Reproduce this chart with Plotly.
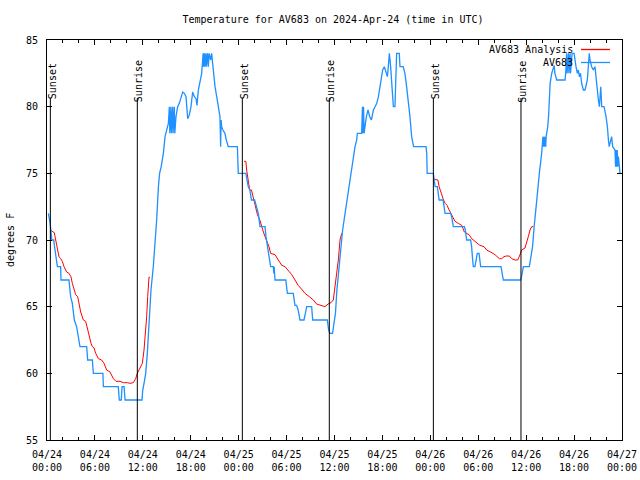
import pandas as pd
import plotly.graph_objects as go

BASE = pd.Timestamp("2024-04-24 00:00")

# Observed temperature (hours since 04/24 00:00 UTC, deg F)
obs_hours = [0.17, 0.4, 0.6, 0.85, 0.9, 1.09, 1.3, 1.71, 1.75, 2.75, 2.85, 2.96, 3.17, 3.3, 3.42, 3.71, 3.84,
             4.01, 4.13, 4.97, 5.09, 5.68, 5.80, 7.0, 7.06, 8.93, 9.05, 9.3, 9.4, 9.65, 9.78, 11.9, 11.98, 12.15,
             12.36, 12.56, 12.77, 13.02, 13.31, 13.5, 13.73, 13.95, 14.1, 14.3, 14.57, 14.78, 14.99, 15.2, 15.32,
             15.38, 15.52, 15.58, 15.73, 15.79, 15.94, 16.0, 16.15, 16.36, 16.57, 16.78, 16.99, 17.2, 17.41, 17.5,
             17.62, 17.83, 18.03, 18.24, 18.45, 18.66, 18.78, 18.95, 19.16, 19.37, 19.49, 19.55, 19.6, 19.7,
             19.76, 19.9, 19.96, 20.1, 20.2, 20.3, 20.5, 20.62, 20.74, 20.83, 21.04, 21.25, 21.45, 21.66, 21.74,
             21.8, 21.87, 22.03, 22.28, 22.45, 22.7, 23.84, 23.95, 24.9, 25.0, 25.2, 25.4, 25.6, 26.0, 26.25,
             26.46, 26.67, 27.3, 27.42, 27.72, 28.0, 28.34, 28.4, 28.45, 28.55, 29.9, 30.1, 30.84, 31.05, 31.25,
             31.45, 31.68, 32.18, 32.35, 32.52, 33.14, 33.27, 35.1, 35.27, 35.43, 35.76, 35.93, 36.12, 36.3,
             36.56, 36.77, 37.02, 37.2, 37.5, 37.74, 37.95, 38.16, 38.36, 38.57, 38.78, 38.86, 39.4, 39.5, 39.56,
             39.64, 39.7, 39.78, 39.99, 40.2, 40.41, 40.62, 40.87, 41.08, 41.29, 41.5, 41.7, 41.91, 42.03, 42.24,
             42.45, 42.62, 42.74, 42.87, 43.03, 43.28, 43.37, 43.57, 43.7, 43.78, 44.11, 44.2, 44.6, 44.82, 45.03,
             45.24, 45.45, 45.66, 45.9, 47.46, 47.55, 47.6, 48.38, 48.46, 48.6, 48.88, 49.0, 49.1, 49.6, 49.84,
             50.55, 50.67, 50.88, 52.26, 52.38, 52.55, 53.05, 53.17, 53.3, 53.38, 53.59, 53.72, 53.88, 54.1, 54.3,
             56.85, 57.0, 57.14, 59.3, 59.42, 59.65, 60.4, 60.6, 60.8, 61.0, 61.2, 61.41, 61.65, 61.8, 61.94,
             62.1, 62.15, 62.2, 62.3, 62.35, 62.45, 62.5, 62.7, 62.8, 62.9, 63.0, 63.2, 63.5, 63.6, 63.82, 64.87,
             64.95, 65.07, 65.12, 65.3, 65.35, 65.5, 65.55, 65.75, 66.0, 66.24, 66.41, 66.53, 66.66, 66.8, 66.95,
             67.16, 67.37, 67.66, 67.78, 67.9, 67.99, 68.2, 68.41, 68.62, 68.74, 68.91, 69.04, 69.17, 69.34,
             69.46, 69.75, 70.0, 70.17, 70.3, 70.4, 70.7, 70.83, 71.12, 71.2, 71.25, 71.33, 71.4, 71.46, 71.55,
             71.75, 71.96]
obs_temps = [72, 71.25, 70, 70, 69.7, 69, 68, 68, 67, 67, 66.5, 65.75, 65.25, 64.25, 64, 63.5, 63,
             62.6, 62, 62, 61, 61, 60, 60, 59, 59, 58, 58, 59, 59, 58, 58, 58.7, 59.25,
             60, 61.5, 63.75, 66.25, 68, 69.5, 71.5, 74, 75, 75.5, 76.5, 77.75, 78.25, 78.75, 80,
             78, 80, 78, 80, 78, 80, 78, 79.25, 80, 80.25, 80.6, 81.1, 81, 80.75, 80,
             79.1, 79.4, 80, 81.1, 80.75, 80.6, 80.1, 81.25, 82, 82.5, 83.5, 84, 83, 84,
             83, 84, 83, 84, 83, 84, 83.5, 84, 83.25, 82.5, 81.5, 80.75, 80, 79.25, 77,
             79, 78.5, 78.25, 78, 77.5, 77, 77, 75, 75, 74.6, 74, 73.75, 73, 73, 72.5,
             72, 71, 71, 70.25, 69, 68, 68, 67.5, 68, 67, 67, 66, 66, 65.1, 65.1,
             64.75, 64, 64, 64.5, 65, 65, 64, 64, 63.25, 63, 63, 63.75, 64.5, 66.25,
             68, 69.25, 70.75, 71.5, 72.75, 73.5, 74.5, 75.5, 76.25, 77, 77.5, 78, 78, 80, 78,
             80, 78, 78.5, 79.25, 79.75, 79.25, 79, 79.75, 80, 80.25, 80.75, 81.5, 82.5, 82.75, 83,
             82.5, 82.25, 83, 84, 83, 81.25, 80, 80, 82, 84, 84, 83, 83, 82.5, 81.5,
             80.5, 79.25, 77.75, 77, 77, 76.5, 75, 75, 74.6, 74, 74, 73.5, 73, 73, 72,
             72, 71.75, 71, 71, 70.75, 70, 70, 69.5, 68.5, 68, 68, 68.5, 69, 69, 68,
             68, 67.5, 67, 67, 67.25, 68, 68, 68.75, 69.5, 71, 72.5, 73.5, 75, 75.75, 76.5,
             77.75, 77, 77.75, 77, 77.75, 77, 77.75, 78.5, 79.25, 80.25, 81.75, 82.5, 83.1, 82.5, 82, 82,
             82.5, 84, 82.5, 84, 82.5, 84, 82.5, 84, 84, 83, 82.5, 82.75, 82.25, 82.5, 81.75,
             81.25, 81.25, 82, 83, 84, 83.5, 83, 82.75, 83, 82.25, 81, 80.5, 80, 81.5,
             80, 80, 79.25, 78.5, 77.5, 77, 77.75, 77, 76.75, 75.5, 76.75, 75.5, 76.75, 75.5, 76.25,
             75, 75]

# Analysis temperature, nighttime segments
ana1_hours = [0.38, 0.92, 1.09, 1.29, 1.50, 1.71, 1.92, 2.13, 2.46, 2.75, 3.00, 3.17, 3.38, 3.59, 3.84, 4.01,
              4.22, 4.55, 4.84, 5.05, 5.26, 5.51, 5.68, 5.89, 6.10, 6.43, 6.84, 7.14, 7.47, 7.89, 8.31, 8.64,
              9.14, 9.56, 10.06, 10.39, 10.81, 11.10, 11.31, 11.52, 11.77, 11.94, 12.15, 12.36, 12.48, 12.61,
              12.77, 12.90]
ana1_temps = [70.75, 70.55, 70.0, 69.5, 68.75, 68.6, 68.4, 68.0, 67.6, 67.5, 67.25, 66.75, 66.4, 65.9, 65.75,
              65.25, 64.6, 64.0, 63.9, 63.4, 62.75, 62.25, 62.0, 61.9, 61.5, 61.1, 61.0, 60.75, 60.25, 60.1,
              59.6, 59.4, 59.4, 59.3, 59.3, 59.25, 59.3, 59.6, 60.0, 60.25, 60.45, 60.75, 61.75, 63.0, 64.25,
              65.75, 67.2, 67.2]
ana2_hours = [24.67, 24.9, 25.0, 25.2, 25.38, 25.6, 25.85, 26.05, 26.35, 26.65, 26.85, 27.1, 27.3, 27.6, 27.8,
              28.0, 28.3, 28.55, 28.96, 29.4, 29.8, 30.2, 30.65, 31.05, 31.45, 31.9, 32.3, 32.85, 33.35, 33.75,
              34.2, 34.8, 35.2, 35.56, 35.85, 36.06, 36.27, 36.48, 36.69, 36.9]
ana2_temps = [75.9, 75.9, 75.25, 74.5, 73.75, 73.75, 73.1, 72.5, 71.9, 71.5, 71.0, 70.6, 70.25, 69.75, 69.5,
              69.0, 68.95, 68.9, 68.5, 68.1, 68.0, 67.75, 67.4, 67.0, 66.6, 66.3, 66.0, 65.75, 65.5, 65.2,
              65.1, 65.0, 65.2, 65.3, 65.5, 66.5, 67.5, 68.5, 70.0, 70.5]
ana3_hours = [48.5, 48.95, 49.1, 49.3, 49.5, 49.65, 49.85, 50.1, 50.35, 50.59, 50.88, 51.09, 51.5, 51.93, 52.26,
              52.55, 52.84, 53.18, 53.6, 54.2, 54.72, 55.05, 55.56, 56.1, 56.64, 56.93, 57.23, 57.48, 57.9,
              58.19, 58.6, 58.94, 59.23, 59.44, 59.85, 60.06, 60.27, 60.48, 60.69, 60.9]
ana3_temps = [74.55, 74.5, 74.0, 73.6, 73.25, 73.0, 72.75, 72.6, 72.25, 72.0, 71.6, 71.4, 71.25, 71.1, 70.6,
              70.5, 70.4, 70.1, 69.9, 69.6, 69.5, 69.25, 69.1, 68.9, 68.6, 68.6, 68.75, 68.8, 68.8,
              68.6, 68.5, 68.5, 68.9, 69.25, 69.4, 69.75, 70.25, 70.75, 71.0, 71.0]

# Sun events
sun_hours = [0.42, 11.31, 24.46, 35.35, 48.38, 59.35]
sun_labels = ["Sunset", "Sunrise", "Sunset", "Sunrise", "Sunset", "Sunrise"]

tick_hours = list(range(0, 73, 6))
tick_labels = ["04/24<br>00:00", "04/24<br>06:00", "04/24<br>12:00", "04/24<br>18:00",
               "04/25<br>00:00", "04/25<br>06:00", "04/25<br>12:00", "04/25<br>18:00",
               "04/26<br>00:00", "04/26<br>06:00", "04/26<br>12:00", "04/26<br>18:00",
               "04/27<br>00:00"]

def t(hours):
    return [BASE + pd.Timedelta(hours=h) for h in hours]

FONT = "DejaVu Sans Mono"
FS = 10
BLUE = "#1e90ff"
RED = "#ff0000"

fig = go.Figure()
for hh, vv in [(ana1_hours, ana1_temps), (ana2_hours, ana2_temps), (ana3_hours, ana3_temps)]:
    fig.add_trace(go.Scatter(x=t(hh), y=vv, mode="lines", line=dict(color=RED, width=1),
                             showlegend=False, hoverinfo="skip"))
fig.add_trace(go.Scatter(x=t(obs_hours), y=obs_temps, mode="lines", line=dict(color=BLUE, width=1.3),
                         showlegend=False, hoverinfo="skip"))

# Sun event lines and labels
for h, lab in zip(sun_hours, sun_labels):
    x = BASE + pd.Timedelta(hours=h)
    fig.add_shape(type="line", xref="x", yref="y", x0=x, x1=x, y0=55, y1=80.65,
                  line=dict(color="black", width=1))
    fig.add_annotation(x=x, y=81.9, xref="x", yref="y", text=lab, textangle=-90, showarrow=False,
                       xanchor="center", yanchor="middle", xshift=1.5,
                       font=dict(family=FONT, size=FS, color="black"))

# Legend drawn gnuplot style
W, H = 575.0, 400.0
def px(xp):
    return (xp - 47) / W
def py(yp):
    return (440 - yp) / H

legend_items = [("AV683 Analysis", RED, 49.5), ("AV683", BLUE, 62.5)]
for name, col, yy in legend_items:
    fig.add_annotation(x=px(575), y=py(yy), xref="paper", yref="paper", text=name, showarrow=False,
                       xanchor="right", yanchor="middle", font=dict(family=FONT, size=FS, color="black"))
    fig.add_shape(type="line", xref="paper", yref="paper", x0=px(581), x1=px(610), y0=py(yy), y1=py(yy),
                  line=dict(color=col, width=1.3))

# y axis label
fig.add_annotation(x=px(10), y=py(240), xref="paper", yref="paper", text="degrees F", textangle=-90,
                   showarrow=False, xanchor="center", yanchor="middle",
                   font=dict(family=FONT, size=FS, color="black"))

fig.update_layout(
    width=640, height=480,
    margin=dict(l=47, r=18, t=40, b=40, autoexpand=False),
    paper_bgcolor="white", plot_bgcolor="white",
    title=dict(text="Temperature for AV683 on 2024-Apr-24 (time in UTC)", x=(183 + 483) / 2 / 640,
               xanchor="center", y=1 - 19 / 480, yanchor="middle", yref="container",
               font=dict(family=FONT, size=FS, color="black")),
    font=dict(family=FONT, size=FS, color="black"),
    showlegend=False,
)
fig.update_xaxes(
    range=[BASE, BASE + pd.Timedelta(hours=72)], automargin=False,
    tickvals=t(tick_hours), ticktext=tick_labels,
    ticks="inside", ticklen=5, tickcolor="black", tickwidth=1,
    minor=dict(ticks="inside", ticklen=3, dtick=2 * 3600 * 1000, tick0=BASE, tickcolor="black"),
    showline=True, linecolor="black", linewidth=1, mirror="allticks",
    showgrid=False, zeroline=False, ticklabelstandoff=5,
    tickfont=dict(family=FONT, size=FS, color="black"),
)
fig.update_yaxes(
    range=[55, 85], dtick=5, tick0=55, automargin=False,
    ticks="inside", ticklen=5, tickcolor="black", tickwidth=1,
    showline=True, linecolor="black", linewidth=1, mirror="allticks",
    showgrid=False, zeroline=False, ticklabelstandoff=6,
    tickfont=dict(family=FONT, size=FS, color="black"),
)

fig.write_html("out.html")
